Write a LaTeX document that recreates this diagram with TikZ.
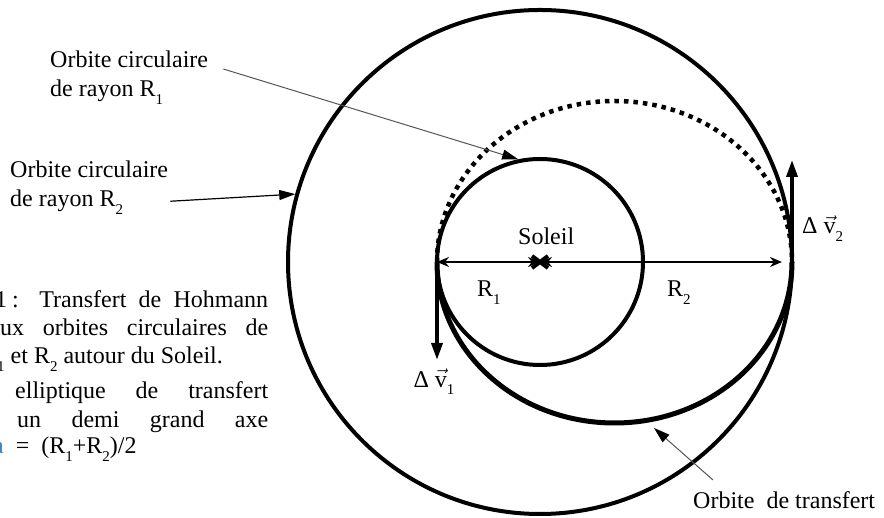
\documentclass[tikz,border=0pt]{standalone}
\usepackage{fontspec}
\setmainfont{Liberation Serif}
\usepackage{xcolor}
\usepackage{tikz}
\usetikzlibrary{
  arrows.meta,
  positioning,
  calc,
}
\definecolor{leadGray}{HTML}{555555}
\definecolor{symBlue}{HTML}{4A7FC1}
\newcommand{\lowsub}[1]{\raisebox{-0.3em}{\fontsize{15}{15}\selectfont #1}}
\newcommand{\velo}{\ensuremath{\vec{\mbox{v}}}}

\begin{document}
\begin{tikzpicture}[x=1pt, y=1pt,
  txt/.style={inner sep=0pt, font=\fontsize{24}{29}\selectfont},
  orbit/.style={line width=4pt},
  transfer/.style={line width=5pt},
  impulse/.style={line width=3.5pt, -{Triangle[length=17pt, width=11pt]}},
  dimline/.style={line width=2.8pt,
    {Stealth[length=12pt, width=10pt]}-{Stealth[length=12pt, width=10pt]}},
  leader/.style={leadGray, line width=1pt,
    -{Triangle[length=16pt, width=10pt, color=black]}},
]
  \useasboundingbox (0,0) rectangle (884,518);
  \clip (0,0) rectangle (884,518);

  % sun, perihelion, aphelion
  \coordinate (sun) at (540,256);
  \coordinate (peri) at (437,256);
  \coordinate (apo) at (792,256);

  % orbits
  \draw[orbit] (sun) circle[radius=252pt];
  \draw[orbit] (sun) circle[radius=103pt];
  \draw[transfer] (peri) arc[start angle=180, end angle=360, x radius=177.5pt, y radius=161pt];
  \draw[line width=4.5pt, dash pattern=on 4.5pt off 5pt]
    (peri) arc[start angle=180, end angle=0, x radius=177.5pt, y radius=161pt];

  % radii
  \coordinate (r2end) at (782,256);
  \draw[dimline] (peri) -- (sun);
  \draw[dimline] (sun) -- (r2end);
  \draw[line width=4pt] ($(sun)+(-8,-6)$) -- ($(sun)+(8,6)$)
                        ($(sun)+(-8,6)$) -- ($(sun)+(8,-6)$);
  \node[txt, anchor=base west] (soleil) at (518,273) {Soleil};
  \node[txt, anchor=base west] (r1lbl) at (477,221) {R\lowsub{1}};
  \node[txt, anchor=base west] (r2lbl) at (667,221) {R\lowsub{2}};

  % velocity kicks
  \coordinate (dv1end) at (437,158);
  \coordinate (dv2end) at (792,358);
  \draw[impulse] (peri) -- (dv1end);
  \draw[impulse] (apo) -- (dv2end);
  \node[txt, below=9pt of dv1end, xshift=-3pt] (dv1lbl) {Δ \velo\lowsub{1}};
  \node[txt, anchor=base west] (dv2lbl) at (802,284) {Δ \velo\lowsub{2}};

  % labels with leaders
  \node[txt, align=left, anchor=north west] (lblA) at (50,467) {Orbite circulaire\\de rayon R\lowsub{1}};
  \node[txt, align=left, anchor=north west] (lblB) at (10,357) {Orbite circulaire\\de rayon R\lowsub{2}};
  \node[txt, anchor=north west] (lblC) at (693,27) {Orbite\ \ de transfert};
  \coordinate (tipA) at ($(sun)+(102:105pt)$);
  \coordinate (tipB) at ($(sun)+(164.5:254pt)$);
  \coordinate (tipC) at (654,90);
  \draw[leader] ($(lblA.north east)+(15,-18)$) -- (tipA);
  \draw[leader, black, line width=1.2pt] ($(lblB.south east)+(2,13)$) -- (tipB);
  \draw[leader] ($(lblC.north west)+(20,11)$) -- (tipC);

  % cut-off caption on the left
  \node[txt, anchor=base west] (capA) at (-5,210) {\makebox[273pt][s]{1\kern5pt: Transfert de Hohmann}};
  \node[txt, anchor=base west] (capB) at (0,182) {\makebox[268pt][s]{ux orbites circulaires de}};
  \node[txt, anchor=base west] (capC) at (-3,154) {\lowsub{1} et R\lowsub{2} autour du Soleil.};
  \node[txt, anchor=base west] (capD) at (15,119) {\makebox[253pt][s]{elliptique de transfert}};
  \node[txt, anchor=base west] (capE) at (17,90) {\makebox[251pt][s]{un demi grand axe}};
  \node[txt, anchor=base west] (capF) at (-7,64) {\textcolor{symBlue}{a}\ \ =\ \ (R\lowsub{1}+R\lowsub{2})/2};
\end{tikzpicture}
\end{document}
